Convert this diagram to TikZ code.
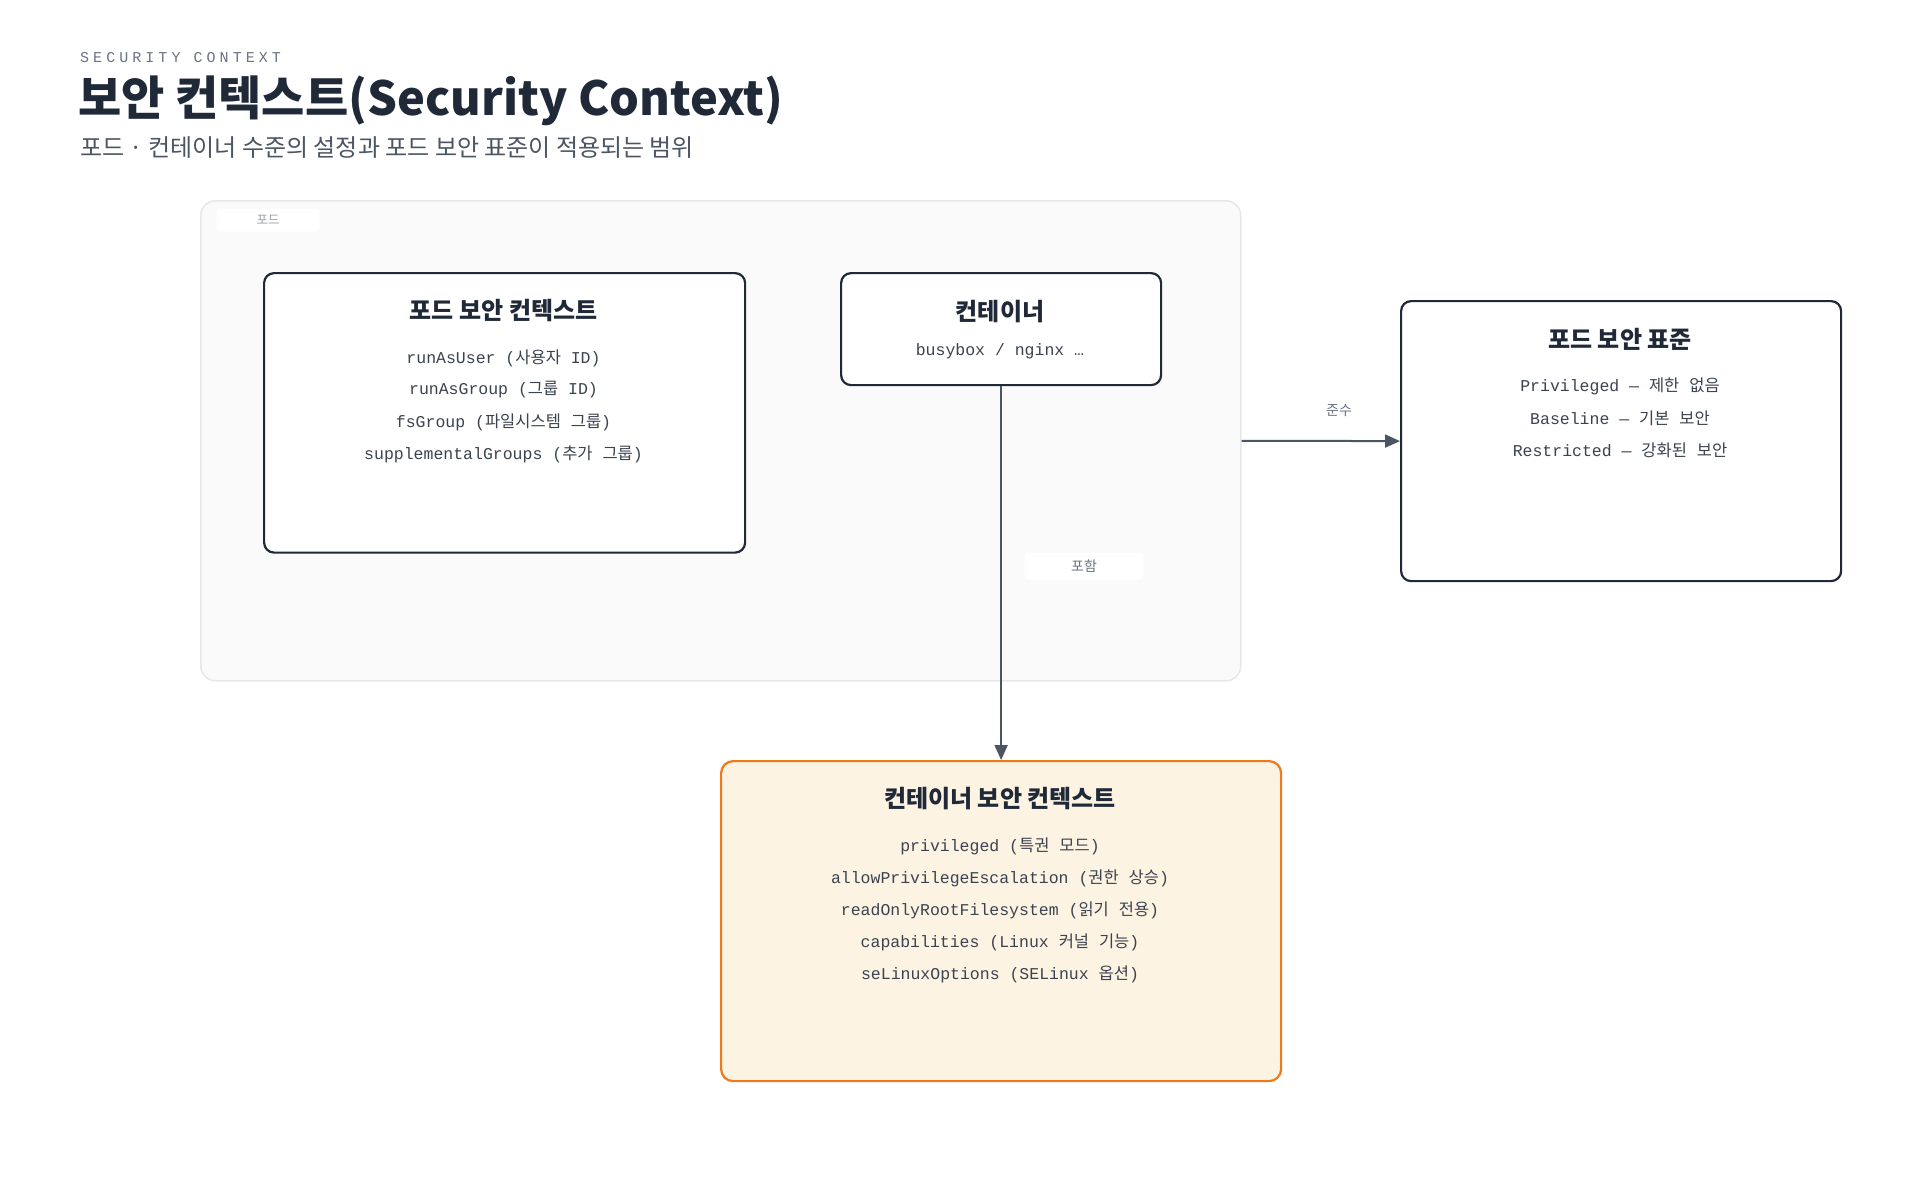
\documentclass[tikz,border=0pt]{standalone}
\usepackage{fontspec}
\setmainfont{Noto Sans CJK KR}
\newfontfamily\kr{Noto Sans CJK KR}
\newfontfamily\mono{Liberation Mono}
\newfontfamily\spacedmono{Liberation Mono}[LetterSpace=27]
\usetikzlibrary{arrows.meta}
\definecolor{ink}{HTML}{1F2937}
\definecolor{itemc}{HTML}{3B4350}
\definecolor{subc}{HTML}{4B5563}
\definecolor{eyebrow}{HTML}{6B7280}
\definecolor{lblc}{HTML}{6B7280}
\definecolor{tabc}{HTML}{9CA3AF}
\definecolor{podfill}{HTML}{FAFAFA}
\definecolor{podline}{HTML}{E5E7EB}
\definecolor{arrowc}{HTML}{4B5563}
\definecolor{orangeline}{HTML}{EF7A1C}
\definecolor{orangefill}{HTML}{FDF3E3}
\newcommand\hg[1]{{\kr #1}}
\tikzset{
  cardbox/.style={draw=ink, line width=2.2pt, rounded corners=10pt, fill=white, inner sep=0pt, anchor=north west},
  hotbox/.style={draw=orangeline, line width=2.2pt, rounded corners=12pt, fill=orangefill, inner sep=0pt, anchor=north west},
  groupbox/.style={draw=podline, line width=1.5pt, rounded corners=15pt, fill=podfill, inner sep=0pt, anchor=north west},
  cardtitle/.style={font=\kr\fontsize{24}{28}\selectfont\bfseries, text=ink, inner sep=0pt},
  cardsub/.style={font=\mono\fontsize{16.5}{20}\selectfont, text=itemc, inner sep=0pt},
  edgelabel/.style={font=\kr\fontsize{14}{16}\selectfont, text=lblc, inner sep=0pt},
  conn/.style={draw=arrowc, line width=2pt, -{Triangle[length=15pt,width=13pt]}},
}
\begin{document}
\begin{tikzpicture}[x=1pt,y=-1pt]
\fill[white] (0,0) rectangle (1920,1200);
\useasboundingbox (0,0) rectangle (1920,1200);

% header
\node[anchor=west, inner sep=0pt, font=\spacedmono\fontsize{15}{18}\selectfont, text=eyebrow] (eyebrow) at (80,58) {SECURITY CONTEXT};
\node[anchor=west, inner sep=0pt, font=\kr\fontsize{47}{54}\selectfont\bfseries, text=ink] (title) at (78,101) {보안 컨텍스트(Security Context)};
\node[anchor=west, inner sep=0pt, font=\kr\fontsize{24}{28}\selectfont, text=subc] (subtitle) at (80,148) {포드 · 컨테이너 수준의 설정과 포드 보안 표준이 적용되는 범위};

% pod group
\node[groupbox, minimum width=1040pt, minimum height=480pt] (pod) at (200,200) {};
\node[fill=white, rounded corners=3pt, minimum width=103pt, minimum height=23pt, inner sep=0pt, font=\kr\fontsize{12.5}{14}\selectfont, text=tabc] (podtab) at (268,220) {포드};

% pod security context
\node[cardbox, minimum width=481pt, minimum height=279.5pt] (psc) at (263,272) {};
\node[cardtitle] (psct) at (503.5,311) {포드 보안 컨텍스트};
\node[cardsub] (psc1) at (503.5,358) {runAsUser (\hg{사용자} ID)};
\node[cardsub] (psc2) at (503.5,390) {runAsGroup (\hg{그룹} ID)};
\node[cardsub] (psc3) at (503.5,422) {fsGroup (\hg{파일시스템} \hg{그룹})};
\node[cardsub] (psc4) at (503.5,454) {supplementalGroups (\hg{추가} \hg{그룹})};

% container
\node[cardbox, minimum width=320pt, minimum height=112pt] (cont) at (840,272) {};
\node[cardtitle] (contt) at (1000,312) {컨테이너};
\node[cardsub] (cont1) at (1000,351) {busybox / nginx …};

% pod security standards
\node[cardbox, minimum width=440pt, minimum height=280pt] (pss) at (1400,300) {};
\node[cardtitle] (psst) at (1620,339.5) {포드 보안 표준};
\node[cardsub] (pss1) at (1620,386) {Privileged — \hg{제한} \hg{없음}};
\node[cardsub] (pss2) at (1620,418) {Baseline — \hg{기본} \hg{보안}};
\node[cardsub] (pss3) at (1620,450) {Restricted — \hg{강화된} \hg{보안}};

% container security context
\node[hotbox, minimum width=560pt, minimum height=320pt] (csc) at (720,760) {};
\node[cardtitle] (csct) at (1000,799) {컨테이너 보안 컨텍스트};
\node[cardsub] (csc1) at (1000,846) {privileged (\hg{특권} \hg{모드})};
\node[cardsub] (csc2) at (1000,878) {allowPrivilegeEscalation (\hg{권한} \hg{상승})};
\node[cardsub] (csc3) at (1000,910) {readOnlyRootFilesystem (\hg{읽기} \hg{전용})};
\node[cardsub] (csc4) at (1000,942) {capabilities (Linux \hg{커널} \hg{기능})};
\node[cardsub] (csc5) at (1000,974) {seLinuxOptions (SELinux \hg{옵션})};

% connectors
\draw[conn] (cont.south) -- (csc.north);
\node[fill=white, rounded corners=3pt, minimum width=119pt, minimum height=27pt, inner sep=0pt, edgelabel] (lblcontain) at (1084,566) {포함};
\draw[conn] (pod.east) -- (pss.west);
\node[edgelabel] (lblcomply) at (1339,410) {준수};
\end{tikzpicture}
\end{document}
